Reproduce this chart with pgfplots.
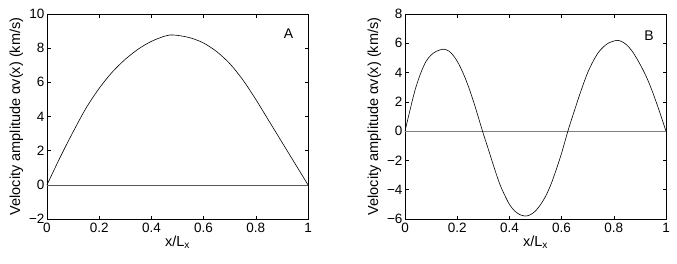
\documentclass[border=0pt]{standalone}
\usepackage{pgfplots}
\pgfplotsset{compat=1.18}
\usepackage{fontspec}
\setmainfont{Liberation Sans}
\begin{document}
\begin{tikzpicture}[x=1pt,y=1pt]
\useasboundingbox (0,0) rectangle (677,263);
\pgfplotsset{
  mystyle/.style={
    scale only axis, width=261pt, height=205pt,
    xmin=0, xmax=1,
    xtick={0,0.2,0.4,0.6,0.8,1},
    xticklabels={0,0.2,0.4,0.6,0.8,1},
    tick align=inside, tick pos=both,
    major tick length=3.5pt,
    tick style={black, line width=0.5pt},
    axis line style={line width=0.6pt},
    every tick label/.append style={font=\fontsize{13.5}{15}\selectfont},
    label style={font=\fontsize{14.5}{16}\selectfont},
    xlabel={x/L\textsubscript{x}},
    ylabel={Velocity amplitude αv(x) (km/s)},
    xlabel style={yshift=4pt},
    ylabel style={yshift=-1pt},
    xticklabel style={yshift=-1pt},
    yticklabel style={xshift=1pt},
    clip=false,
  }
}
\begin{axis}[mystyle, at={(47pt,44pt)}, anchor=south west,
  ymin=-2, ymax=10, ytick={-2,0,2,4,6,8,10},
  yticklabels={−2,0,2,4,6,8,10}]
\addplot[gray!70!black, line width=0.5pt] coordinates {(0,0) (1,0)};
\addplot[black, line width=0.6pt, smooth] coordinates {
(0,0) (0.05,1.6) (0.10,3.1) (0.15,4.5) (0.20,5.65) (0.25,6.6) (0.30,7.35)
(0.35,7.95) (0.40,8.4) (0.45,8.7) (0.47,8.77) (0.50,8.75) (0.55,8.6) (0.60,8.3)
(0.65,7.8) (0.70,7.1) (0.75,6.15) (0.80,5.0) (0.85,3.75) (0.90,2.5)
(0.95,1.25) (1.0,0)
};
\node[font=\fontsize{14}{16}\selectfont] at (rel axis cs:0.925,0.905) {A};
\end{axis}
\begin{axis}[mystyle, at={(405pt,44pt)}, anchor=south west,
  ymin=-6, ymax=8, ytick={-6,-4,-2,0,2,4,6,8},
  yticklabels={−6,−4,−2,0,2,4,6,8}]
\addplot[gray, line width=0.6pt] coordinates {(0,0) (1,0)};
\addplot[black, line width=0.6pt, smooth] coordinates {
(0,0) (0.02,1.5) (0.04,2.9) (0.06,3.95) (0.08,4.75) (0.10,5.2) (0.12,5.45)
(0.147,5.6) (0.17,5.45) (0.19,5.05) (0.21,4.45) (0.23,3.65) (0.25,2.7)
(0.27,1.6) (0.297,0) (0.315,-1.0) (0.332,-1.95) (0.35,-2.95) (0.365,-3.7)
(0.38,-4.3) (0.40,-5.0) (0.42,-5.45) (0.44,-5.7) (0.461,-5.8) (0.48,-5.71)
(0.50,-5.45) (0.52,-5.0) (0.54,-4.4) (0.56,-3.6) (0.58,-2.6) (0.60,-1.5)
(0.624,0) (0.64,0.9) (0.66,2.0) (0.68,3.05) (0.70,4.0) (0.72,4.75) (0.74,5.35)
(0.76,5.75) (0.78,6.02) (0.811,6.2) (0.83,6.12) (0.85,5.88) (0.87,5.47)
(0.89,4.9) (0.91,4.25) (0.93,3.5) (0.95,2.6) (0.97,1.6) (0.985,0.8) (1.0,0)
};
\node[font=\fontsize{14}{16}\selectfont] at (rel axis cs:0.935,0.895) {B};
\end{axis}
\end{tikzpicture}
\end{document}
